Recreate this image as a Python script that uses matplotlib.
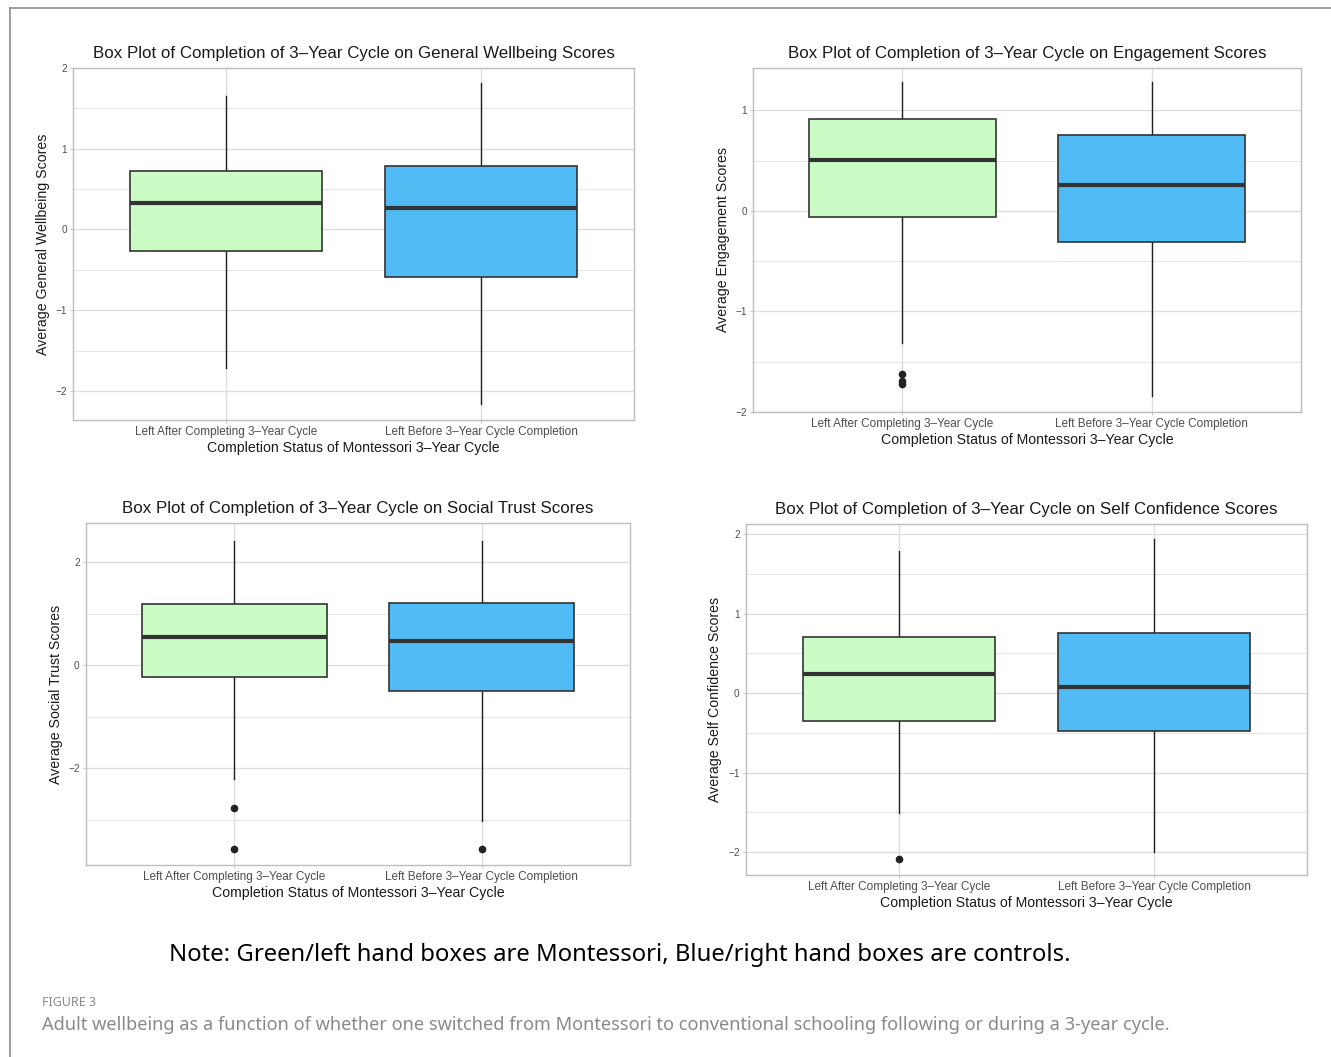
"""
Four box plots: completion of the Montessori 3-year cycle vs. wellbeing scales.
"""

import matplotlib
matplotlib.use('Agg')
import matplotlib.pyplot as plt
from matplotlib.lines import Line2D

W, H = 1331, 1057

groups = ['Left After Completing 3\u2013Year Cycle', 'Left Before 3\u2013Year Cycle Completion']
fills = ['#CCFCC6', '#51BBF6']

titles = ['Box Plot of Completion of 3\u2013Year Cycle on General Wellbeing Scores',
          'Box Plot of Completion of 3\u2013Year Cycle on Engagement Scores',
          'Box Plot of Completion of 3\u2013Year Cycle on Social Trust Scores',
          'Box Plot of Completion of 3\u2013Year Cycle on Self Confidence Scores']
ylabels = ['Average General Wellbeing Scores',
           'Average Engagement Scores',
           'Average Social Trust Scores',
           'Average Self Confidence Scores']
xlabel = 'Completion Status of Montessori 3\u2013Year Cycle'

# per panel: [after, before]
q1 = [[-0.27, -0.59], [-0.06, -0.31], [-0.23, -0.50], [-0.35, -0.48]]
med = [[0.33, 0.26], [0.51, 0.26], [0.54, 0.47], [0.24, 0.08]]
q3 = [[0.73, 0.78], [0.91, 0.75], [1.18, 1.20], [0.71, 0.76]]
whislo = [[-1.71, -2.16], [-1.31, -1.84], [-2.21, -3.03], [-1.51, -2.00]]
whishi = [[1.65, 1.81], [1.28, 1.28], [2.41, 2.42], [1.79, 1.94]]
fliers = [[[], []],
          [[-1.62, -1.69, -1.72], []],
          [[-2.78, -3.57], [-3.57]],
          [[-2.09], []]]

major_ticks = [[-2, -1, 0, 1, 2], [-2, -1, 0, 1], [-2, 0, 2], [-2, -1, 0, 1, 2]]
minor_ticks = [[-1.5, -0.5, 0.5, 1.5], [-1.5, -0.5, 0.5], [-3, -1, 1], [-1.5, -0.5, 0.5, 1.5]]
ylims = [(-2.36, 2.0), (-2.0, 1.42), (-3.88, 2.76), (-2.29, 2.13)]

# axes boxes in pixels: left, top, right, bottom
boxes_px = [(73, 68, 634, 420), (753, 68, 1301, 412),
            (86, 523, 630, 865), (746, 524, 1307, 875)]
ylabelpads = [4, 4, 4, 4.5]

plt.rcParams['font.family'] = ['Liberation Sans', 'DejaVu Sans']

fig = plt.figure(figsize=(W / 100, H / 100), dpi=100)
fig.patch.set_facecolor('white')

# outer frame of the figure page
fig.add_artist(Line2D([10 / W, 1.0], [1 - 8 / H, 1 - 8 / H], color='#8C8C8C', lw=1.2))
fig.add_artist(Line2D([10 / W, 10 / W], [1 - 8 / H, 0.0], color='#8C8C8C', lw=1.2))

for i in range(4):
    x0, y0, x1, y1 = boxes_px[i]
    ax = fig.add_axes([x0 / W, 1 - y1 / H, (x1 - x0) / W, (y1 - y0) / H])
    stats = []
    for g in range(2):
        stats.append(dict(q1=q1[i][g], med=med[i][g], q3=q3[i][g],
                          whislo=whislo[i][g], whishi=whishi[i][g],
                          fliers=fliers[i][g], label=groups[g]))
    bp = ax.bxp(stats, positions=[1, 2], widths=0.75, patch_artist=True,
                showcaps=False,
                boxprops=dict(edgecolor='#333333', linewidth=1.2),
                medianprops=dict(color='#333333', linewidth=3.0, solid_capstyle='butt'),
                whiskerprops=dict(color='#222222', linewidth=1.0),
                flierprops=dict(marker='o', markerfacecolor='#222222',
                                markeredgecolor='#222222', markersize=4.5))
    for patch, c in zip(bp['boxes'], fills):
        patch.set_facecolor(c)
    for b in bp['boxes']:
        b.set_zorder(3)
    for m in bp['medians']:
        m.set_zorder(4)

    ax.set_xlim(0.4, 2.6)
    ax.set_ylim(*ylims[i])
    ax.set_yticks(major_ticks[i])
    ax.set_yticklabels(['\u2212%d' % -t if t < 0 else '%d' % t for t in major_ticks[i]])
    ax.set_yticks(minor_ticks[i], minor=True)
    ax.set_axisbelow(True)
    ax.grid(True, which='major', color='#DEDEDE', linewidth=1.0)
    ax.grid(True, which='minor', axis='y', color='#E6E6E6', linewidth=0.8)
    for s in ax.spines.values():
        s.set_color('#BDBDBD')
        s.set_linewidth(1.0)
    ax.tick_params(axis='both', which='major', length=2.5, width=0.6, color='#BDBDBD',
                   labelcolor='#4D4D4D', pad=2)
    ax.tick_params(axis='y', which='minor', length=0)
    ax.tick_params(axis='y', labelsize=7.2)
    ax.tick_params(axis='x', labelsize=8.5)

    ax.set_title(titles[i], fontsize=12.2, color='#1A1A1A', pad=7)
    ax.set_xlabel(xlabel, fontsize=10.2, color='#1A1A1A', labelpad=2)
    ax.set_ylabel(ylabels[i], fontsize=10.2, color='#1A1A1A', labelpad=ylabelpads[i])

fig.text(620 / W, 1 - 955 / H,
         'Note: Green/left hand boxes are Montessori, Blue/right hand boxes are controls.',
         ha='center', va='center', fontsize=17.2, color='black', family=['Noto Sans', 'DejaVu Sans'])
fig.text(42 / W, 1 - 1002 / H, 'FIGURE 3', ha='left', va='center', fontsize=9,
         color='#8A8A8A', family=['Noto Sans', 'DejaVu Sans'])
fig.text(42 / W, 1 - 1025 / H,
         'Adult wellbeing as a function of whether one switched from Montessori to '
         'conventional schooling following or during a 3-year cycle.',
         ha='left', va='center', fontsize=13.1, color='#8A8A8A',
         family=['Noto Sans', 'DejaVu Sans'])

fig.savefig('out.png', dpi=100, facecolor='white')
